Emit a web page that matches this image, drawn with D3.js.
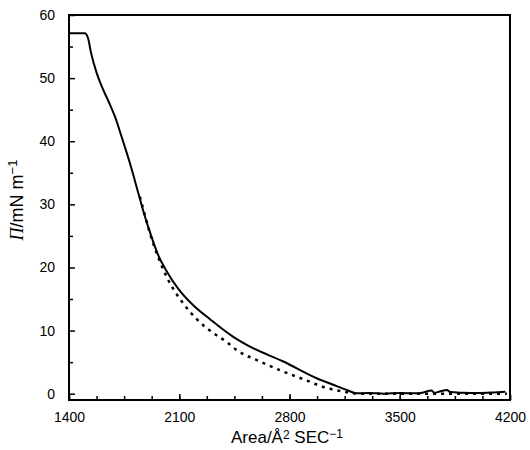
<!DOCTYPE html>
<html>
<head>
<meta charset="utf-8">
<script src="https://cdn.jsdelivr.net/npm/d3@7"></script>
<style>
  body { margin: 0; background: #fff; }
  svg text { font-family: "Liberation Sans", Arial, sans-serif; fill: #000; }
</style>
</head>
<body>
<div id="chart"></div>
<script>
// isotherm, measured (solid)
const areaSolid = [1400, 1500, 1520, 1540, 1576, 1608, 1660, 1692, 1734, 1787, 1840, 1883, 1914, 1967, 2020,
    2094, 2189, 2295, 2443, 2549, 2761, 2973, 3100, 3163, 3227, 3300, 3400, 3500, 3600, 3650, 3700, 3720,
    3760, 3800, 3820, 3900, 4000, 4100, 4170];
const piSolid = [57.1, 57.1, 56.4, 54.0, 50.8, 48.7, 45.8, 43.9, 40.7, 36.5, 31.8, 28.0, 25.6, 21.9, 19.4,
    16.6, 14.0, 11.8, 9.0, 7.45, 5.1, 2.44, 1.2, 0.6, 0.05, 0.1, 0.0, 0.1, 0.05, 0.2, 0.5, 0.15,
    0.4, 0.6, 0.25, 0.15, 0.1, 0.2, 0.3];

// fitted (dotted)
const areaDotted = [1850, 1883, 1914, 1967, 2020, 2062, 2126, 2211, 2316, 2400, 2465, 2613, 2761, 2888,
    3036, 3150, 3250, 3500, 3800, 4180];
const piDotted = [31.2, 28.2, 25.4, 21.6, 18.5, 16.6, 14.3, 11.8, 9.6, 8.2, 6.9, 5.1, 3.5, 2.3,
    0.9, 0.3, 0.0, 0.0, 0.0, 0.0];

const xTicks = [1400, 2100, 2800, 3500, 4200];
const yTicks = [0, 10, 20, 30, 40, 50, 60];

const width = 530, height = 450;
const margin = { top: 15, right: 20, bottom: 50, left: 69 };

const svg = d3.select('#chart').append('svg')
    .attr('width', width)
    .attr('height', height);

const x = d3.scaleLinear().domain([1400, 4200]).range([margin.left, width - margin.right]);
const y = d3.scaleLinear().domain([-1, 60]).range([height - margin.bottom, margin.top]);

const line = d3.line()
    .x(d => x(d[0]))
    .y(d => y(d[1]))
    .curve(d3.curveMonotoneX);

// minor ticks
svg.append('g')
    .attr('transform', `translate(0,${height - margin.bottom})`)
    .call(d3.axisBottom(x).tickValues(d3.range(1400, 4201, 175)).tickSizeInner(-4).tickSizeOuter(0).tickFormat(''))
    .call(g => g.select('.domain').remove());
svg.append('g')
    .attr('transform', `translate(${margin.left},0)`)
    .call(d3.axisLeft(y).tickValues(d3.range(5, 60, 10)).tickSizeInner(-4).tickSizeOuter(0).tickFormat(''))
    .call(g => g.select('.domain').remove());

// major ticks
const xAxis = svg.append('g')
    .attr('transform', `translate(0,${height - margin.bottom})`)
    .call(d3.axisBottom(x).tickValues(xTicks).tickSizeInner(-6).tickSizeOuter(0).tickPadding(12).tickFormat(d3.format('d')));
const yAxis = svg.append('g')
    .attr('transform', `translate(${margin.left},0)`)
    .call(d3.axisLeft(y).tickValues(yTicks).tickSizeInner(-6).tickSizeOuter(0).tickPadding(14).tickFormat(d3.format('d')));

[xAxis, yAxis].forEach(g => {
    g.selectAll('text').style('font-size', '14px');
    g.select('.domain').remove();
});
svg.selectAll('.tick line').attr('stroke', '#000').attr('stroke-width', 1.5);

// frame
svg.append('rect')
    .attr('x', margin.left)
    .attr('y', margin.top)
    .attr('width', width - margin.left - margin.right)
    .attr('height', height - margin.top - margin.bottom)
    .attr('fill', 'none')
    .attr('stroke', '#000')
    .attr('stroke-width', 2);

// curves
svg.append('path')
    .datum(d3.zip(areaDotted, piDotted))
    .attr('d', line)
    .attr('fill', 'none')
    .attr('stroke', '#000')
    .attr('stroke-width', 2.5)
    .attr('stroke-dasharray', '3,5');

svg.append('path')
    .datum(d3.zip(areaSolid, piSolid))
    .attr('d', line)
    .attr('fill', 'none')
    .attr('stroke', '#000')
    .attr('stroke-width', 2);

// axis titles
const xt = svg.append('text')
    .attr('x', 287)
    .attr('y', 443)
    .attr('text-anchor', 'middle')
    .style('font-size', '17px');
xt.append('tspan').text('Area/Å');
xt.append('tspan').text('2').style('font-size', '12px').attr('dy', -4);
xt.append('tspan').text(' SEC').attr('dy', 4);
xt.append('tspan').text('−1').style('font-size', '12px').attr('dy', -5);

const yt = svg.append('text')
    .attr('transform', 'translate(23,200) rotate(-90)')
    .attr('text-anchor', 'middle')
    .style('font-size', '18px');
yt.append('tspan').text('Π').style('font-family', '"Liberation Serif", serif').style('font-style', 'italic');
yt.append('tspan').text('/mN m');
yt.append('tspan').text('−1').style('font-size', '13px').attr('dy', -6);
</script>
</body>
</html>
